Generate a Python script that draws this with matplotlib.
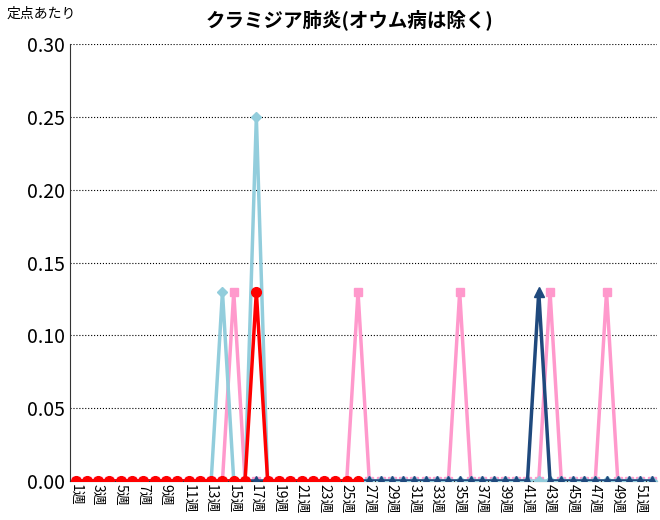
import numpy as np
import matplotlib.pyplot as plt

plt.rcParams['font.family'] = ['Noto Sans CJK JP', 'DejaVu Sans']

weeks = [f"{i}週" for i in range(1, 53)]

pink = [0.0] * 52
for w in (15, 26, 35, 43, 48):
    pink[w - 1] = 0.13
navy = [0.0] * 52
navy[41] = 0.13
lightblue = [0.0] * 52
lightblue[13] = 0.13
lightblue[16] = 0.25
red = [0.0] * 26
red[16] = 0.13

fig = plt.figure(figsize=(6.6, 5.2), dpi=100)
ax = fig.add_axes([0.106, 0.075, 0.89, 0.84])
x = np.arange(1, 53)
ax.plot(x, pink, color='#ff99cc', marker='s', markersize=6, lw=2.5, zorder=2)
ax.plot(x, lightblue, color='#92cddc', marker='D', markersize=5, lw=2.5, zorder=3)
ax.plot(x, navy, color='#1f497d', marker='^', markersize=7, lw=2.5, zorder=4)
ax.plot(x[:26], red, color='#ff0000', marker='o', markersize=7, lw=2.5, zorder=5)

ax.set_xlim(0.5, 52.5)
ax.set_ylim(0, 0.30)
ax.set_yticks(np.arange(0, 0.31, 0.05))
ax.set_yticklabels([f"{v:.2f}" for v in np.arange(0, 0.31, 0.05)], fontsize=14)
ax.yaxis.grid(True, linestyle=':', color='black', lw=0.8)
ax.set_xticks(x)
ax.set_xticklabels([w if i % 2 == 0 else '' for i, w in enumerate(weeks)],
                   rotation=-90, fontsize=10)
ax.tick_params(axis='x', length=0, pad=2)
ax.tick_params(axis='y', length=0)
for s in ('top', 'right'):
    ax.spines[s].set_visible(False)
ax.spines['left'].set_color('#333333')
ax.spines['bottom'].set_color('#333333')

fig.text(0.53, 0.95, 'クラミジア肺炎(オウム病は除く)', ha='center', fontsize=14, fontweight='bold')
fig.text(0.01, 0.965, '定点あたり', fontsize=10)
fig.savefig('out.png')
